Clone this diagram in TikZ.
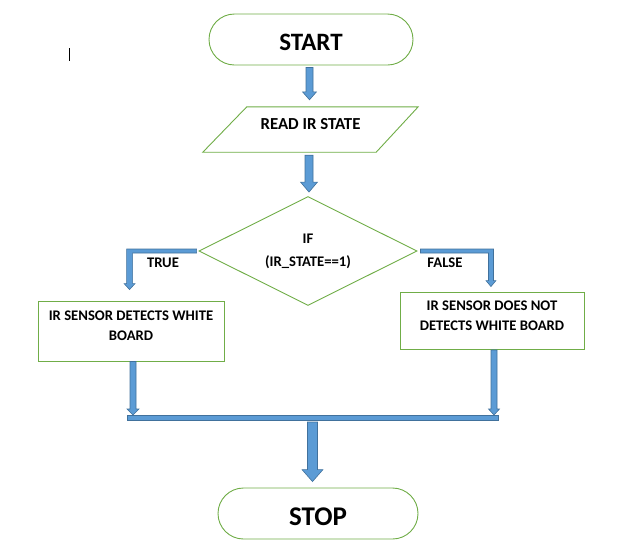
\documentclass[tikz,border=0pt]{standalone}
\usepackage{fontspec}
\setmainfont{Carlito}
\usetikzlibrary{shapes.geometric,shapes.misc,calc}

\definecolor{flowgreen}{HTML}{70AD47}
\definecolor{arrowblue}{HTML}{5B9BD5}
\definecolor{arrowedge}{HTML}{41719C}

\tikzset{
  flowline/.style={draw=flowgreen, line width=0.9pt, fill=white},
  terminal/.style={flowline, rounded rectangle, inner sep=0pt},
  procbox/.style={flowline, rectangle, inner sep=0pt},
  smalltext/.style={font=\fontsize{14.67}{20}\selectfont\bfseries, align=center},
  bigtext/.style={font=\fontsize{#1}{#1}\selectfont\bfseries},
  blockarrow/.style={fill=arrowblue, draw=arrowedge, line width=0.6pt, line join=miter},
}

% vertical block arrow: shaft centred on the x of #1, tip at the y of #2
\newcommand\blockdown[5]{%
  \draw[blockarrow] let \p1=(#1), \p2=(#2) in
    (\x1-#3,\y1) -- (\x1+#3,\y1) -- (\x1+#3,\y2+#5) -- (\x1+#4,\y2+#5)
    -- (\x1,\y2) -- (\x1-#4,\y2+#5) -- (\x1-#3,\y2+#5) -- cycle;}

\begin{document}
\begin{tikzpicture}[x=1pt, y=-1pt]
  \useasboundingbox (0,0) rectangle (638,547);

  % text cursor mark
  \draw[line width=1pt] (69,48) -- (69,61);

  % terminals
  \node[terminal, minimum width=204pt, minimum height=51pt,
        label={[name=start-text, bigtext=25, yshift=-2.5pt]center:START}]
        (start) at (311,39.5) {};
  \node[terminal, minimum width=200pt, minimum height=51pt,
        label={[name=stop-text, bigtext=27, yshift=-3pt]center:STOP}]
        (stop) at (318,513.5) {};

  % input parallelogram (outline drawn first, text on top)
  \node[inner sep=0pt, minimum width=215pt, minimum height=45pt] (read) at (310.5,129.5) {};
  \draw[flowline] ($(read.north west)+(44,0)$) -- (read.north east)
    -- ($(read.south east)+(-42,0)$) -- (read.south west) -- cycle;
  \node[bigtext=16.8] (read-text) at ($(read.center)+(0,-5.5)$) {READ IR STATE};

  % decision
  \node[flowline, diamond, aspect=2, inner sep=0pt, minimum width=218pt,
        minimum height=109pt, smalltext, font=\fontsize{14.67}{23}\selectfont\bfseries]
        (dia) at (308,251) {IF\\(IR\_STATE==1)};

  % outcome boxes
  \node[procbox, minimum width=186pt, minimum height=60pt,
        label={[name=lbox-text, smalltext, yshift=5pt]center:IR SENSOR DETECTS WHITE\\BOARD}]
        (lbox) at (131,331) {};
  \node[procbox, minimum width=184pt, minimum height=57pt,
        label={[name=rbox-text, smalltext, yshift=4.5pt]center:IR SENSOR DOES NOT\\DETECTS WHITE BOARD}]
        (rbox) at (492,320.5) {};

  % branch labels
  \node[smalltext] (truelbl) at (163,263) {TRUE};
  \node[smalltext] (falselbl) at (445,263) {FALSE};

  % joining bar
  \coordinate (barL) at (127,417.5);
  \coordinate (barR) at (498,417.5);
  \draw[blockarrow] ($(barL)+(0,-2.5)$) rectangle ($(barR)+(0,2.5)$);

  % straight arrows
  \blockdown{$(start.south)+(-1.5,2)$}{$(read.north)+(0,-7)$}{3.5pt}{7pt}{8pt}
  \blockdown{$(read.south)+(-1.5,3)$}{$(dia.north)+(0,-4)$}{4pt}{8.5pt}{10pt}
  \blockdown{$(lbox.south)+(2,0)$}{$(barL)+(0,-2.5)$}{3pt}{6pt}{6pt}
  \blockdown{$(rbox.south)+(2,0.5)$}{$(barR)+(0,-2.5)$}{3pt}{5.5pt}{6pt}
  \blockdown{$($(barL)!0.5!(barR)$)+(0,4.5)$}{$(stop.north)+(0,-6)$}{5pt}{10.5pt}{12pt}

  % bent arrow towards the TRUE branch
  \draw[blockarrow] let \p1=(dia.west), \p2=(lbox.north) in
    (\x1-2pt,\y1+2pt) -- (\x1-72pt,\y1+2pt) -- (\x1-72pt,\y2+17pt)
    -- (\x1-74.5pt,\y2+17pt) -- (\x1-69pt,\y2+11pt) -- (\x1-63.5pt,\y2+17pt)
    -- (\x1-66pt,\y2+17pt) -- (\x1-66pt,\y1-2pt) -- (\x1-2pt,\y1-2pt) -- cycle;

  % bent arrow towards the FALSE branch
  \draw[blockarrow] let \p1=(dia.east), \p2=(rbox.north) in
    (\x1+3pt,\y1+2pt) -- (\x1+76pt,\y1+2pt) -- (\x1+76pt,\y2+11pt)
    -- (\x1+78.5pt,\y2+11pt) -- (\x1+73.5pt,\y2+5pt) -- (\x1+68.5pt,\y2+11pt)
    -- (\x1+71pt,\y2+11pt) -- (\x1+71pt,\y1-2pt) -- (\x1+3pt,\y1-2pt) -- cycle;
\end{tikzpicture}
\end{document}
